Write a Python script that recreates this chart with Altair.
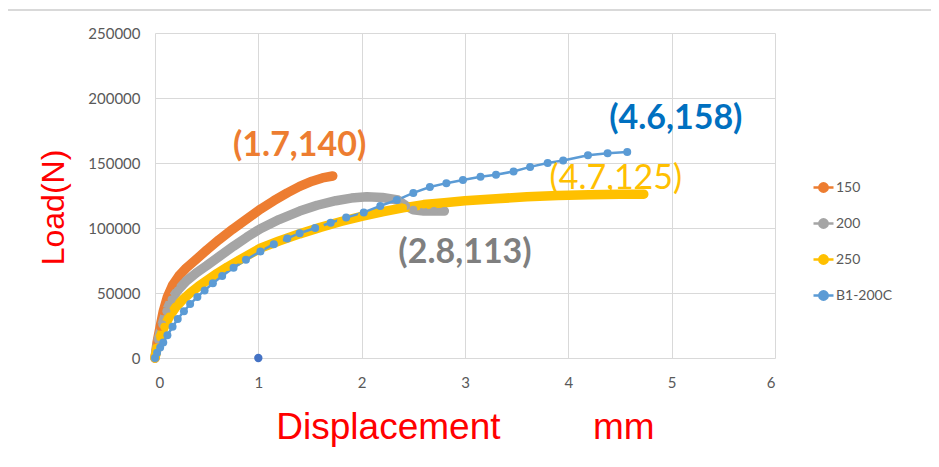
import altair as alt
import pandas as pd

series_names = ["150", "200", "250", "B1-200C"]
series_colors = ["#ED7D31", "#A5A5A5", "#FFC000", "#5B9BD5"]

x150 = [0, 0.02, 0.05, 0.08, 0.12, 0.17, 0.23, 0.30, 0.40, 0.50, 0.62, 0.75, 0.89, 1.02, 1.15, 1.28, 1.40, 1.52, 1.62, 1.72]
y150 = [0, 12000, 24000, 36000, 47000, 56000, 63000, 69000, 76000, 83000, 91000, 99000, 107000, 114500, 121000, 127000, 132000, 136000, 138500, 140000]

x200 = [0, 0.03, 0.07, 0.11, 0.16, 0.22, 0.30, 0.40, 0.50, 0.62, 0.76, 0.89, 1.02, 1.2, 1.4, 1.57, 1.75, 1.9, 2.05, 2.2, 2.35, 2.43, 2.5, 2.6, 2.7, 2.8]
y200 = [0, 14000, 26000, 36000, 45000, 52000, 59000, 65500, 71000, 78000, 86000, 93000, 99500, 106500, 113000, 117500, 121000, 123000, 124000, 123500, 121500, 117000, 114000, 113000, 113000, 113000]

x250 = [0, 0.02, 0.05, 0.09, 0.14, 0.2, 0.27, 0.34, 0.42, 0.5, 0.6, 0.7, 0.82, 1.02, 1.2, 1.4, 1.6, 1.8, 2.0, 2.2, 2.4, 2.6, 2.8, 3.0, 3.3, 3.6, 3.9, 4.2, 4.5, 4.73]
y250 = [0, 8000, 16000, 24000, 32000, 39000, 45000, 50000, 55000, 59500, 65000, 70000, 75500, 84500, 90000, 95500, 100500, 105000, 109000, 112500, 115500, 118000, 119500, 121000, 122500, 124000, 125000, 125500, 126000, 126000]

xB1 = [0, 0.02, 0.05, 0.08, 0.12, 0.17, 0.22, 0.28, 0.34, 0.41, 0.48, 0.56, 0.65, 0.76, 0.88, 1.02, 1.15, 1.28, 1.40, 1.55, 1.70, 1.85, 2.02, 2.18, 2.34, 2.50, 2.66, 2.82, 2.98, 3.15, 3.3, 3.47, 3.63, 3.80, 3.95, 4.19, 4.38, 4.57]
yB1 = [0, 4000, 8000, 12000, 17500, 24000, 30000, 36000, 41500, 47000, 52000, 57500, 63000, 69500, 75500, 82000, 87500, 92000, 96000, 100000, 104000, 108000, 112000, 117000, 121500, 127000, 131500, 134500, 137000, 139500, 141000, 143500, 147000, 150000, 152000, 156000, 157500, 158500]

stray_x = [1.0]
stray_y = [0]

ann_text = ["(1.7,140)", "(4.6,158)", "(4.7,125)", "(2.8,113)"]
ann_x = [1.40, 5.04, 4.46, 3.0]
ann_y = [163000, 184000, 138000, 81000]
ann_color = ["#ED7D31", "#0070C0", "#FFC000", "#7F7F7F"]
ann_bold = [True, True, False, True]

rows = []
for name, xs, ys in zip(series_names, [x150, x200, x250, xB1], [y150, y200, y250, yB1]):
    for i, (a, b) in enumerate(zip(xs, ys)):
        rows.append({"series": name, "disp": a, "load": b, "i": i})
df = pd.DataFrame(rows)
stray = pd.DataFrame({"disp": stray_x, "load": stray_y})
ann = pd.DataFrame({"t": ann_text, "disp": ann_x, "load": ann_y, "c": ann_color, "b": ann_bold})

W, H = 620, 325

xscale = alt.Scale(domain=[0, 6], nice=False)
yscale = alt.Scale(domain=[0, 250000], nice=False)
cscale = alt.Scale(domain=series_names, range=series_colors)
legend = alt.Legend(
    title=None, orient="none", legendX=657, legendY=143,
    symbolType="M-1,0L1,0M-0.42,0A0.42,0.42,0,1,1,0.42,0A0.42,0.42,0,1,1,-0.42,0Z",
    symbolSize=400, symbolStrokeWidth=2.5, rowPadding=15,
    labelFont="Lato", labelFontSize=14, labelColor="#595959", labelOffset=1,
)
color = alt.Color("series:N", scale=cscale, legend=legend)

x_enc = alt.X(
    "disp:Q", scale=xscale,
    axis=alt.Axis(
        title="Displacement\u00a0\u00a0\u00a0\u00a0\u00a0\u00a0\u00a0\u00a0 mm",
        values=[0, 1, 2, 3, 4, 5, 6], format="d",
        grid=True, gridColor="#D9D9D9", gridWidth=1, domain=False, ticks=False,
        labelFont="Lato", labelFontSize=15, labelColor="#595959", labelPadding=17,
        titleFont="Liberation Sans", titleFontSize=37, titleFontWeight="normal", titleColor="#FF0000",
        titleY=80, titleBaseline="alphabetic",
    ),
)
y_enc = alt.Y(
    "load:Q", scale=yscale,
    axis=alt.Axis(
        title="Load(N)", values=[0, 50000, 100000, 150000, 200000, 250000], format="d",
        grid=True, gridColor="#D9D9D9", gridWidth=1, domain=False, ticks=False,
        labelFont="Lato", labelFontSize=15, labelColor="#595959", labelPadding=15,
        titleFont="Liberation Sans", titleFontSize=32, titleFontWeight="normal", titleColor="#FF0000",
        titleX=-92, titleY=174, titleAngle=-90, titleBaseline="alphabetic", titleAlign="center",
    ),
)

bands = alt.Chart(df).transform_filter("datum.series != 'B1-200C'").mark_line(
    strokeCap="round", strokeJoin="round", strokeWidth=9.5
).encode(x=x_enc, y=y_enc, color=color, order="i:Q")
thin = alt.Chart(df).transform_filter("datum.series == 'B1-200C'").mark_line(
    strokeWidth=2.5
).encode(x="disp:Q", y="load:Q", color=color, order="i:Q")
points = alt.Chart(df).mark_circle(size=64, opacity=1).encode(
    x="disp:Q", y="load:Q", color=color,
)
stray_pt = alt.Chart(stray).mark_circle(size=70, opacity=1, color="#4472C4").encode(
    x="disp:Q", y="load:Q",
)
labels_bold = alt.Chart(ann).transform_filter("datum.b").mark_text(
    font="Lato", fontSize=34, fontWeight="bold", align="center", baseline="middle"
).encode(x="disp:Q", y="load:Q", text="t:N", color=alt.Color("c:N", scale=None))
labels_norm = alt.Chart(ann).transform_filter("!datum.b").mark_text(
    font="Lato", fontSize=34, fontWeight="normal", align="center", baseline="middle"
).encode(x="disp:Q", y="load:Q", text="t:N", color=alt.Color("c:N", scale=None))
border = alt.Chart(stray).mark_rule(color="#D9D9D9", strokeWidth=2).encode(
    x=alt.value(-147), x2=alt.value(776), y=alt.value(-23)
)

chart = alt.layer(border, bands, thin, points, stray_pt, labels_bold, labels_norm).properties(
    width=W, height=H,
    autosize=alt.AutoSizeParams(type="none"),
    padding={"left": 147, "top": 25, "right": 156, "bottom": 95},
).configure_view(stroke=None)

chart.save("out.html", embed_options={"renderer": "svg", "actions": False})
